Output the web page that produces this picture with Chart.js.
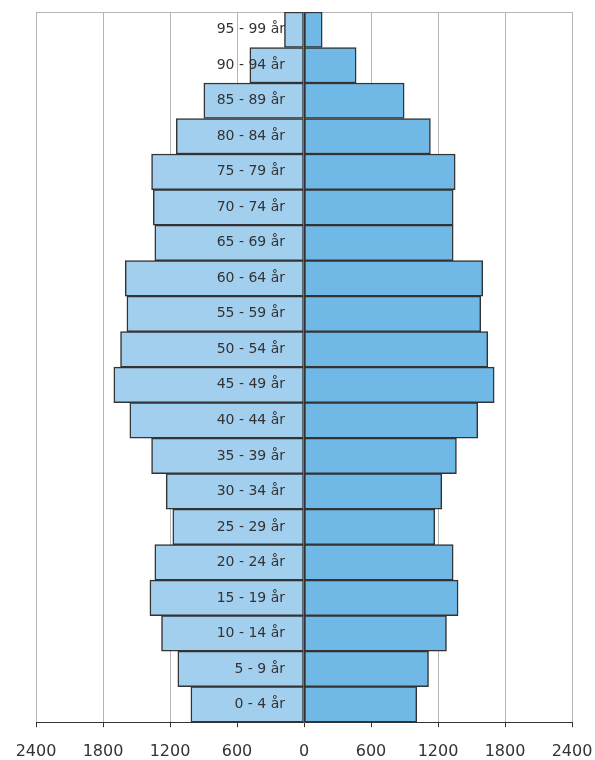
<!DOCTYPE html>
<html>
<head>
<meta charset="utf-8">
<script src="https://cdn.jsdelivr.net/npm/chart.js@4"></script>
<style>
  body { margin: 0; background: #fff; }
</style>
</head>
<body>
<canvas id="pyramid" width="595" height="760"></canvas>
<script>
// age groups, youngest first (axis is reversed so 0-4 sits at the bottom)
const ageGroups = ["0 - 4 år", "5 - 9 år", "10 - 14 år", "15 - 19 år", "20 - 24 år",
  "25 - 29 år", "30 - 34 år", "35 - 39 år", "40 - 44 år", "45 - 49 år",
  "50 - 54 år", "55 - 59 år", "60 - 64 år", "65 - 69 år", "70 - 74 år",
  "75 - 79 år", "80 - 84 år", "85 - 89 år", "90 - 94 år", "95 - 99 år"];
const leftSide = [1013, 1130, 1276, 1380, 1336, 1175, 1234, 1365, 1560, 1703,
  1643, 1586, 1601, 1336, 1350, 1365, 1144, 897, 485, 175];
const rightSide = [1010, 1115, 1276, 1380, 1336, 1171, 1234, 1365, 1556, 1703,
  1646, 1583, 1601, 1336, 1336, 1354, 1132, 897, 467, 163];
const axisTicks = [-2400, -1800, -1200, -600, 0, 600, 1200, 1800, 2400];

ctx = document.getElementById('pyramid').getContext("2d");
myChart = new Chart(ctx, {
  type: 'bar',
  data: {
    labels: ageGroups,
    datasets: [{
        data: leftSide.map(v => -v),
        backgroundColor: "#a3cfee",
        borderColor: "#333333",
        borderWidth: 1.5,
        borderSkipped: false,
        barPercentage: 1,
        categoryPercentage: 1
      }, {
        data: rightSide,
        backgroundColor: "#70b9e7",
        borderColor: "#333333",
        borderWidth: 1.5,
        borderSkipped: false,
        barPercentage: 1,
        categoryPercentage: 1
      }
    ]
  },
  options: {
    indexAxis: 'y',
    responsive: false,
    animation: false,
    // tall tick line height pushes the x labels down, negative bottom takes the slack back
    layout: { padding: { left: 36, right: 23, top: 12, bottom: -16 } },
    plugins: { legend: { display: false }, tooltip: { enabled: false } },
    scales: {
      x: {
        stacked: true,
        min: -2400, max: 2400,
        afterBuildTicks: s => { s.ticks = axisTicks.map(v => ({ value: v })); },
        ticks: {
          callback: v => Math.abs(v),
          color: '#333',
          font: { family: 'DejaVu Sans', size: 16, lineHeight: 3.05 },
          padding: 0,
          maxRotation: 0
        },
        grid: {
          color: c => (c.tick && c.tick.value === 0) ? '#333' : '#b5b5b5',
          lineWidth: 1,
          tickColor: '#333',
          tickLength: 5
        },
        border: { color: '#333', width: 1 }
      },
      x2: {
        position: 'top',
        min: -2400, max: 2400,
        ticks: { display: false },
        grid: { display: false, drawTicks: false },
        border: { color: '#b5b5b5', width: 1 }
      },
      y: {
        stacked: true,
        reverse: true,
        // labels sit just left of the zero line, drawn on top of the bars
        position: { x: -170 },
        ticks: {
          z: 1,
          autoSkip: false,
          color: '#333',
          font: { family: 'DejaVu Sans', size: 14 },
          padding: 0
        },
        grid: { display: false, drawTicks: false },
        border: { display: false }
      }
    }
  }
});
</script>
</body>
</html>
